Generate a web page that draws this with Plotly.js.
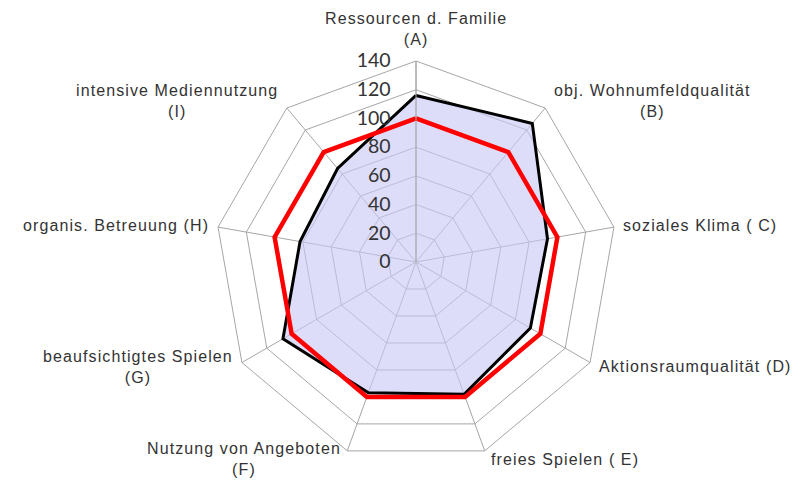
<!DOCTYPE html>
<html>
<head>
<meta charset="utf-8">
<script src="https://cdn.plot.ly/plotly-3.0.1.min.js"></script>
<style>html,body{margin:0;padding:0;background:#fff}#chart{width:811px;height:480px}
.annotation-text{letter-spacing:1.1px}</style>
</head>
<body>
<div id="chart"></div>
<script>
const categories = [
  "Ressourcen d. Familie<br>(A)",
  "obj. Wohnumfeldqualität<br>(B)",
  "soziales Klima ( C)",
  "Aktionsraumqualität (D)",
  "freies Spielen ( E)",
  "Nutzung von Angeboten<br>(F)",
  "beaufsichtigtes Spielen<br>(G)",
  "organis. Betreuung (H)",
  "intensive Mediennutzung<br>(I)"
];
const seriesBlack = [116, 126, 93, 92, 98, 97, 107, 82, 85];
const seriesRed = [100, 100, 100, 100, 100, 100, 100, 100, 100];
const radialTicks = [0, 20, 40, 60, 80, 100, 120, 140];

const W = 811, H = 480;
const cx = 416, cyTop = 262, R = 201;           // polar centre (px from top-left) and outer radius
const rMax = 140;
const domX = [(cx - R) / W, (cx + R) / W];
const domY = [(H - cyTop - R) / H, (H - cyTop + R) / H];

const close = a => a.concat([a[0]]);
const traces = [
  {
    type: 'scatterpolar', r: close(seriesBlack), theta: close(categories),
    mode: 'lines', fill: 'toself', fillcolor: 'rgba(200,200,245,0.62)',
    line: {color: '#000000', width: 3}, hoverinfo: 'skip'
  },
  {
    type: 'scatterpolar', r: close(seriesRed), theta: close(categories),
    mode: 'lines', line: {color: '#ff0000', width: 4.5}, hoverinfo: 'skip'
  }
];

// category labels placed just outside the outer polygon vertices
const annotations = categories.map((c, i) => {
  const th = (90 - 360 / categories.length * i) * Math.PI / 180;
  const cs = Math.cos(th), sn = Math.sin(th);
  const x = (cx + R * cs) / W;
  const y = (H - cyTop + R * sn) / H;
  const a = {
    text: c, xref: 'paper', yref: 'paper', x: x, y: y, showarrow: false,
    align: 'center', font: {family: 'Liberation Sans, Arial, sans-serif', size: 16, color: '#333333'}
  };
  if (Math.abs(cs) < 0.05) {
    a.xanchor = 'center'; a.yanchor = 'bottom'; a.yshift = 11;
  } else {
    a.xanchor = cs > 0 ? 'left' : 'right';
    a.yanchor = 'middle';
    a.xshift = Math.sign(cs) * (Math.abs(cs) > 0.5 ? 7 : 4);
    a.yshift = 9 * sn;
  }
  return a;
});

const layout = {
  width: W, height: H,
  margin: {l: 0, r: 0, t: 0, b: 0},
  paper_bgcolor: '#ffffff',
  showlegend: false,
  font: {family: 'Liberation Sans, Arial, sans-serif', size: 14, color: '#333333'},
  annotations: annotations,
  polar: {
    domain: {x: domX, y: domY},
    gridshape: 'linear',
    bgcolor: 'rgba(0,0,0,0)',
    angularaxis: {
      type: 'category', categoryarray: categories, rotation: 90, direction: 'clockwise',
      gridcolor: '#a6a6a6', gridwidth: 1, linecolor: '#a6a6a6', linewidth: 1,
      showline: true, ticks: '', showticklabels: false
    },
    radialaxis: {
      range: [0, rMax], tickvals: radialTicks, ticktext: radialTicks.map(String),
      angle: 90, tickangle: 90, side: 'counterclockwise',
      gridcolor: '#a6a6a6', gridwidth: 1, linecolor: '#a6a6a6', showline: true,
      ticks: 'outside', ticklen: 18, tickcolor: 'rgba(0,0,0,0)',
      tickfont: {family: 'Lato, Open Sans, sans-serif', size: 19.5, color: '#333333'}
    }
  }
};

Plotly.newPlot('chart', traces, layout, {staticPlot: true, displayModeBar: false});
</script>
</body>
</html>
